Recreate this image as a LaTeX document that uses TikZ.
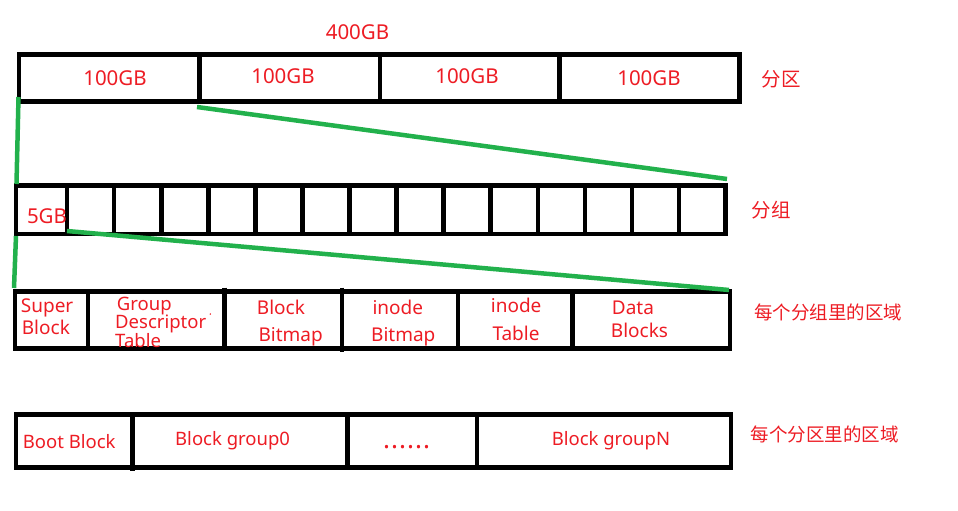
\documentclass[tikz,border=0pt]{standalone}
\usepackage{fontspec}
\setmainfont{Noto Sans}
\newfontfamily\cjk{Noto Sans CJK SC}
\definecolor{pred}{RGB}{237,28,36}
\definecolor{pgreen}{RGB}{34,177,76}
\begin{document}
\begin{tikzpicture}[x=1pt,y=-1pt,
  box/.style={draw=black,line width=4.5pt},
  link/.style={draw=pgreen,line width=4.5pt},
  lbl/.style={text=pred,inner sep=0pt,font=\fontsize{20.5}{24}\selectfont,anchor=base},
  celltext/.style={text=pred,inner sep=0pt,font=\fontsize{19}{22}\selectfont,anchor=base west},
  zh/.style={text=pred,inner sep=0pt,font=\cjk\fontsize{18.5}{22}\selectfont,anchor=west}]
\useasboundingbox (0,0) rectangle (958,511);
% ---- row 1: partitions
\draw[box] (19,54.5) rectangle (739.5,101.5);
\foreach \x in {199.5,380,559.5} \draw[box] (\x,54.5) -- (\x,101.5);
% ---- row 2: groups
\draw[box] (16,185.5) rectangle (725.5,234);
\foreach \x in {67,114,161.5,208.5,255.5,302.5,349.5,396.5,443.5,490.5,538,585,632,679}
  \draw[box] (\x,185.5) -- (\x,234);
% ---- row 3: areas inside a group
\draw[box] (15,291.7) rectangle (730,348.5);
\draw[box] (88,291.7) -- (88,348.5);
\draw[box] (224.5,287.5) -- (224.5,348.5);
\draw[box] (342,287.5) -- (342,351.5);
\draw[box] (458,291.7) -- (458,348.5);
\draw[box] (572.5,291.7) -- (572.5,348.5);
% ---- row 4: areas inside a partition
\draw[box] (16,414.7) rectangle (731,467.5);
\draw[box] (132.7,414.7) -- (132.7,470.5);
\draw[box] (347.7,414.7) -- (347.7,467.5);
\draw[box] (477,414.7) -- (477,467.5);
% ---- green connectors
\coordinate (g1a) at (18.5,97);
\coordinate (g1b) at (16.5,184);
\coordinate (g2a) at (197,107);
\coordinate (g2b) at (727,179);
\coordinate (g3a) at (16,236);
\coordinate (g3b) at (14,288);
\coordinate (g4a) at (67,231);
\coordinate (g4b) at (729,290);
\draw[link] (g1a) -- (g1b);
\draw[link] (g2a) -- (g2b);
\draw[link] (g3a) -- (g3b);
\draw[link] (g4a) -- (g4b);
% ---- texts
\node[lbl] (t400) at (357.5,39.3) {400GB};
\node[lbl] (p1) at (115,85.7) {100GB};
\node[lbl] (p2) at (283,84) {100GB};
\node[lbl] (p3) at (467,84) {100GB};
\node[lbl] (p4) at (649,85) {100GB};
\node[zh,anchor=center,font=\cjk\fontsize{19.5}{22}\selectfont] (fq) at (781,79.2) {分区};
\node[lbl] (g5) at (47,223.3) {5GB};
\node[zh,anchor=center,font=\cjk\fontsize{19.5}{22}\selectfont] (fz) at (771,210) {分组};
\node[celltext] (sb1) at (20.7,312.3) {Super};
\node[celltext] (sb2) at (21.7,334) {Block};
\node[celltext,font=\fontsize{18.5}{22}\selectfont] (gd1) at (116.7,310) {Group};
\node[celltext,font=\fontsize{18.5}{22}\selectfont] (gd2) at (115,328.3) {Descriptor};
\node[celltext,font=\fontsize{18.5}{22}\selectfont] (gd3) at (115,347) {Table};
\fill[pred] (210.3,314) circle (0.8);
\node[celltext] (bb1) at (256.7,314) {Block};
\node[celltext] (bb2) at (258.3,341.7) {Bitmap};
\node[celltext] (ib1) at (372.3,314) {inode};
\node[celltext] (ib2) at (371,341.7) {Bitmap};
\node[celltext] (it1) at (490.7,312.3) {inode};
\node[celltext] (it2) at (492.3,340.7) {Table};
\node[celltext] (db1) at (611.7,314) {Data};
\node[celltext] (db2) at (610.7,337.7) {Blocks};
\node[zh] (zone1) at (754,312) {每个分组里的区域};
\node[celltext,font=\fontsize{18.5}{22}\selectfont] (boot) at (22.7,448.3) {Boot Block};
\node[celltext,font=\fontsize{18.5}{22}\selectfont] (bg0) at (175,445.7) {Block group0};
\node[celltext,font=\fontsize{26}{28}\selectfont] (dots) at (383,448) {.\kern1pt.\kern1pt.\kern1pt.\kern1pt.\kern1pt.};
\node[celltext,font=\fontsize{18.5}{22}\selectfont] (bgn) at (551.6,445.7) {Block groupN};
\node[zh] (zone2) at (750.6,434) {每个分区里的区域};
\end{tikzpicture}
\end{document}
